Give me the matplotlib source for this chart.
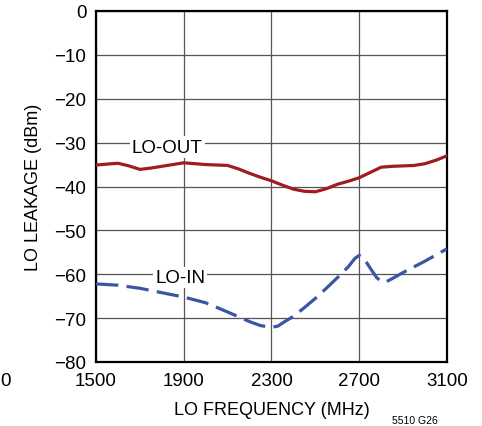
import matplotlib
matplotlib.use('Agg')
import matplotlib.pyplot as plt
from matplotlib import font_manager

# LO leakage vs LO frequency
freq_out = [1500, 1550, 1600, 1650, 1700, 1750, 1800, 1850, 1900, 1950, 2000,
            2050, 2100, 2150, 2200, 2250, 2300, 2350, 2400, 2450, 2500, 2550,
            2600, 2650, 2700, 2750, 2800, 2850, 2900, 2950, 3000, 3050, 3100]
lo_out = [-35.1, -34.9, -34.7, -35.3, -36.1, -35.8, -35.4, -35.0, -34.6, -34.8,
          -35.0, -35.1, -35.2, -36.0, -37.0, -37.9, -38.7, -39.7, -40.6, -41.1,
          -41.2, -40.5, -39.5, -38.8, -38.0, -36.8, -35.6, -35.4, -35.3, -35.2,
          -34.8, -34.0, -33.0]

freq_in = [1500, 1600, 1700, 1800, 1900, 2000, 2100, 2150, 2200, 2250, 2300,
           2330, 2360, 2400, 2450, 2500, 2550, 2600, 2650, 2680, 2700, 2720,
           2750, 2780, 2800, 2820, 2850, 2900, 2950, 3000, 3050, 3100]
lo_in = [-62.2, -62.5, -63.2, -64.2, -65.2, -66.5, -68.6, -69.7, -70.8, -71.7,
         -72.1, -71.8, -70.8, -69.6, -67.6, -65.5, -63.2, -60.8, -58.3, -56.4,
         -55.7, -56.3, -58.6, -60.8, -61.6, -61.8, -61.0, -59.6, -58.3, -57.0,
         -55.6, -54.2]

x_ticks = [1500, 1900, 2300, 2700, 3100]
y_ticks = [0, -10, -20, -30, -40, -50, -60, -70, -80]

names = {f.name for f in font_manager.fontManager.ttflist}
font = 'Liberation Sans Narrow' if 'Liberation Sans Narrow' in names else 'Liberation Sans'
plt.rcParams['font.family'] = [font, 'DejaVu Sans']

fig = plt.figure(figsize=(4.82, 4.27), dpi=100)
ax = fig.add_axes([96 / 482, 1 - 363 / 427, 351 / 482, 351 / 427])

ax.plot(freq_out, lo_out, color='#A01C22', lw=2.3, solid_capstyle='round',
        solid_joinstyle='round', zorder=3)
ax.plot(freq_in, lo_in, color='#3A55A4', lw=2.3, dashes=(7, 2.6),
        dash_capstyle='butt', dash_joinstyle='round', zorder=3)

ax.set_xlim(1500, 3100)
ax.set_ylim(-80, 0)
ax.set_xticks(x_ticks)
ax.set_yticks(y_ticks)
ax.set_yticklabels([str(v).replace('-', '\u2212') for v in y_ticks])
ax.tick_params(length=0, labelsize=13.5, pad=7)
ax.grid(True, color='#555555', lw=0.9)
for s in ax.spines.values():
    s.set_linewidth(1.6)
    s.set_color('black')

ax.set_xlabel('LO FREQUENCY (MHz)', fontsize=13, labelpad=9)
ax.set_ylabel('LO LEAKAGE (dBm)', fontsize=13, labelpad=9)

box = dict(facecolor='white', edgecolor='none', pad=1.5)
ax.text(1825, -31.0, 'LO-OUT', fontsize=13.5, ha='center', va='center', bbox=box, zorder=4)
ax.text(1883, -60.8, 'LO-IN', fontsize=13.5, ha='center', va='center', bbox=box, zorder=4)

fig.text(415 / 482, 1 - 421 / 427, '5510 G26', fontsize=7.5, ha='center', va='center')
fig.text(0.5 / 482, 1 - 382 / 427, '0', fontsize=13.5, ha='left', va='center')

plt.savefig('out.png', dpi=100, facecolor='white')
plt.close(fig)
